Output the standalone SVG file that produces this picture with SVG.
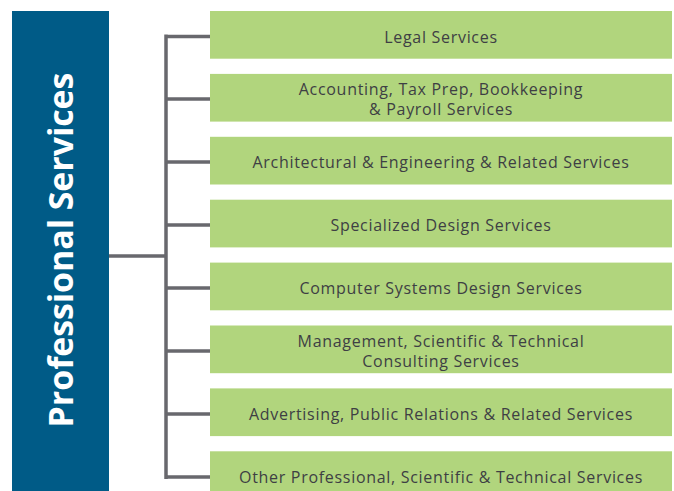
<svg xmlns="http://www.w3.org/2000/svg" width="674" height="491" viewBox="0 0 674 491">
<style>
.box{fill:#b1d57d}
.lbl{font-family:"Open Sans","Liberation Sans",sans-serif;font-size:16px;font-weight:500;fill:#3e3f44;text-anchor:middle;letter-spacing:0.7px}
.conn{fill:none;stroke:#68686d;stroke-width:3.5}
.title{font-family:"Open Sans","Liberation Sans",sans-serif;font-size:34px;font-weight:bold;fill:#ffffff;text-anchor:middle;letter-spacing:-0.1px}
</style>
<rect width="674" height="491" fill="#ffffff"/>
<g id="connectors">
<path class="conn" d="M109 256 H166 M166 34.5 V479 M164.3 36.5 H210 M166 99 H210 M166 162 H210 M166 225 H210 M166 288 H210 M166 351 H210 M166 414 H210 M164.3 477 H210"/>
</g>
<g id="title">
<rect x="12" y="11" width="97" height="480" fill="#005b87"/>
<text class="title" transform="translate(73 250) rotate(-90)">Professional Services</text>
</g>
<g id="n1"><rect class="box" x="210" y="11" width="462" height="47.7"/><text class="lbl" x="441" y="42.5">Legal Services</text></g>
<g id="n2"><rect class="box" x="210" y="73.9" width="462" height="47.7"/><text class="lbl" x="441" y="95">Accounting, Tax Prep, Bookkeeping</text><text class="lbl" x="441" y="115">&amp; Payroll Services</text></g>
<g id="n3"><rect class="box" x="210" y="136.8" width="462" height="47.7"/><text class="lbl" x="441" y="168">Architectural &amp; Engineering &amp; Related Services</text></g>
<g id="n4"><rect class="box" x="210" y="199.7" width="462" height="47.7"/><text class="lbl" x="441" y="231">Specialized Design Services</text></g>
<g id="n5"><rect class="box" x="210" y="262.6" width="462" height="47.7"/><text class="lbl" x="441" y="294">Computer Systems Design Services</text></g>
<g id="n6"><rect class="box" x="210" y="325.5" width="462" height="47.7"/><text class="lbl" x="441" y="346.5">Management, Scientific &amp; Technical</text><text class="lbl" x="441" y="366.5">Consulting Services</text></g>
<g id="n7"><rect class="box" x="210" y="388.4" width="462" height="47.7"/><text class="lbl" x="441" y="420">Advertising, Public Relations &amp; Related Services</text></g>
<g id="n8"><rect class="box" x="210" y="451.3" width="462" height="47.7"/><text class="lbl" x="441" y="483">Other Professional, Scientific &amp; Technical Services</text></g>
</svg>
